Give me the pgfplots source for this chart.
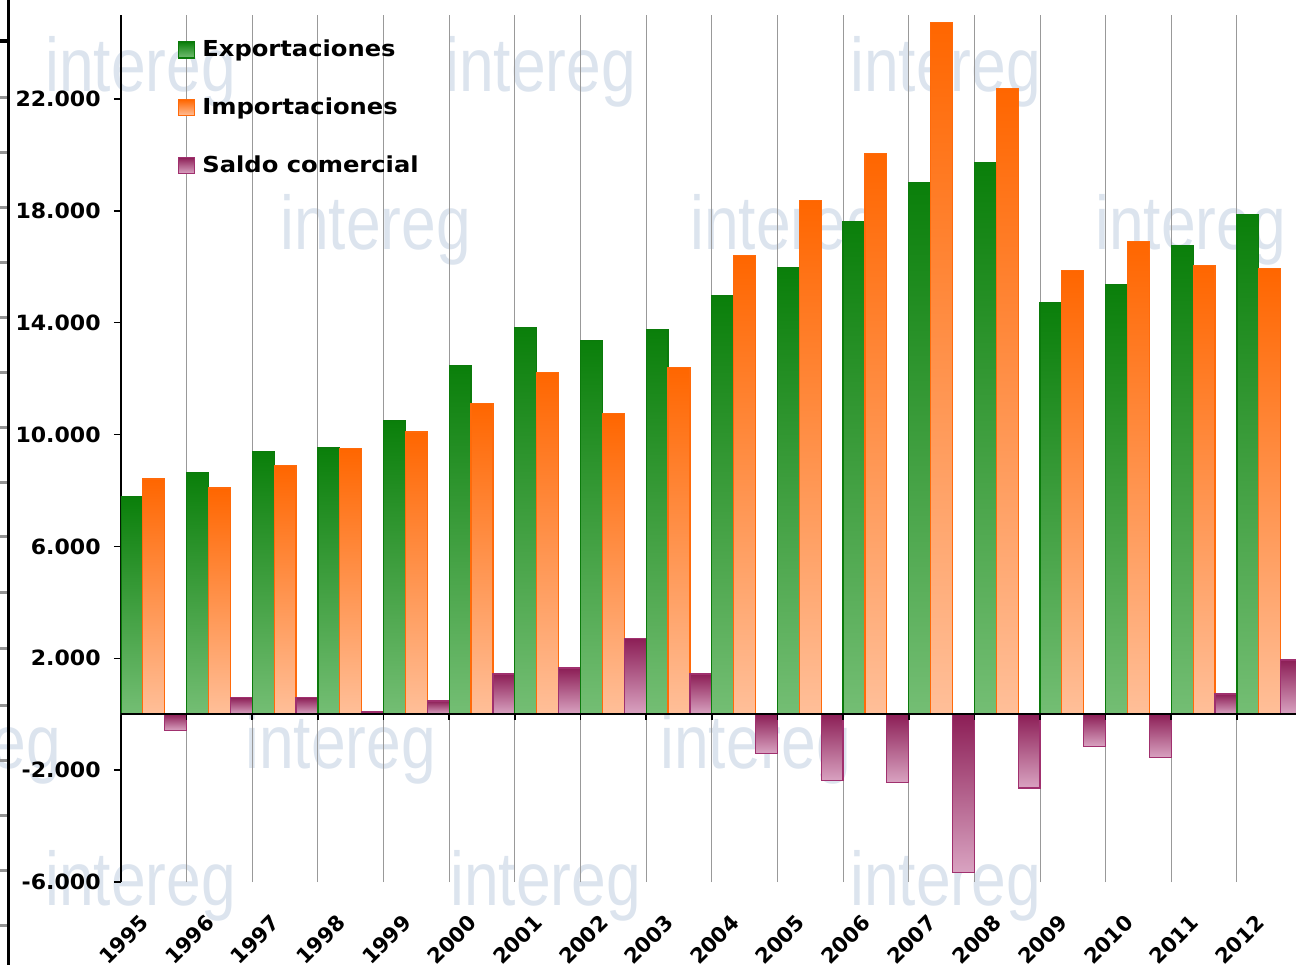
\documentclass[border=0pt]{standalone}
\usepackage{fontspec}
\setmainfont{DejaVu Sans}
\newfontfamily\lblfont[FakeStretch=1.05]{DejaVu Sans}
\newfontfamily\legfont[FakeStretch=1.1]{DejaVu Sans}
\newfontfamily\wmfont[FakeStretch=0.82]{Liberation Sans}
\usepackage{pgfplots}
\usepackage{pgfplotstable}
\pgfplotsset{compat=1.18}
\definecolor{gtop}{HTML}{0A7F0A}
\definecolor{gbot}{HTML}{74BE74}
\definecolor{gedge}{HTML}{0B7A0B}
\definecolor{otop}{HTML}{FF6600}
\definecolor{obot}{HTML}{FFBF99}
\definecolor{oedge}{HTML}{FF6A0A}
\definecolor{stop}{HTML}{8C1E56}
\definecolor{sbot}{HTML}{D9A3C1}
\definecolor{sedge}{HTML}{A0306E}
\definecolor{wm}{HTML}{DCE4EE}
\tikzset{
  expstyle/.style={draw=gedge, line width=0.6pt, top color=gtop, bottom color=gbot},
  impstyle/.style={draw=oedge, line width=0.6pt, top color=otop, bottom color=obot},
  salstyle/.style={draw=sedge, line width=0.6pt, top color=stop, bottom color=sbot},
}

\pgfplotstableread{
idx exp imp sal
0 7770 8410 -580
1 8630 8090 600
2 9380 8880 600
3 9520 9500 80
4 10490 10090 470
5 12480 11120 1440
6 13820 12210 1650
7 13370 10740 2720
8 13750 12400 1440
9 14950 16390 -1400
10 15960 18380 -2380
11 17610 20040 -2440
12 19020 24740 -5650
13 19720 22360 -2640
14 14720 15870 -1150
15 15360 16900 -1560
16 16770 16050 720
17 17860 15930 1940
}\datatable

\begin{document}
\begin{tikzpicture}
\path[use as bounding box] (-60.5pt,-41.5pt) rectangle (587.5pt,441pt);
% pale watermark in the background
\begin{scope}[every node/.style={anchor=base west, text=wm, inner sep=0pt, font=\wmfont\fontsize{38}{40}\selectfont}]
\node at (-38pt,395pt) {intereg};
\node at (162pt,395pt) {intereg};
\node at (364.5pt,395pt) {intereg};
\node at (79.5pt,316pt) {intereg};
\node at (284.5pt,316pt) {intereg};
\node at (487pt,316pt) {intereg};
\node at (-125.5pt,57pt) {intereg};
\node at (62pt,57pt) {intereg};
\node at (269.5pt,57pt) {intereg};
\node at (-38pt,-11.5pt) {intereg};
\node at (164.5pt,-11.5pt) {intereg};
\node at (364.5pt,-11.5pt) {intereg};
\end{scope}
% frame remnants at the left edge
\fill[black] (-57pt,-41.5pt) rectangle (-55.5pt,441pt);
\fill[black] (-60.5pt,419.4pt) rectangle (-57pt,421.6pt);
\foreach \yy in {392,364.5,337,309.5,282,254.5,227,199.5,172.5,145,117,88.5,61,33.5,6,-21.5}
  \fill[gray!85] (-60.5pt,\yy pt-0.75pt) rectangle (-57pt,\yy pt+0.75pt);
\begin{axis}[
  at={(0,0)}, anchor=south west,
  scale only axis, width=587.5pt, height=433.5pt,
  xmin=-0.5, xmax=17.4, ymin=-6000, ymax=25000,
  enlargelimits=false,
  ybar=0pt, bar width=10.94pt,
  axis x line*=bottom, axis y line*=left,
  x axis line style={draw=none},
  y axis line style={black, line width=0.75pt},
  xtick={0,...,17},
  xticklabels={1995,1996,1997,1998,1999,2000,2001,2002,2003,2004,2005,2006,2007,2008,2009,2010,2011,2012},
  xtick style={draw=none},
  minor xtick={0.5,1.5,...,16.5},
  xminorgrids=true,
  minor x grid style={gray!80, line width=0.5pt},
  minor tick length=0pt,
  ytick={-6000,-2000,2000,6000,10000,14000,18000,22000},
  yticklabels={-6.000,-2.000,2.000,6.000,10.000,14.000,18.000,22.000},
  ytick style={black, line width=0.75pt},
  major tick length=3.5pt,
  tick align=outside,
  yticklabel style={font=\lblfont\bfseries\fontsize{10.5}{12.6}\selectfont, inner sep=0pt, xshift=-6.5pt},
  xticklabel style={xshift=-7.5pt, yshift=-12pt, rotate=45, anchor=north east, inner sep=0pt, font=\bfseries\fontsize{10.5}{12.6}\selectfont},
  legend style={at={(axis description cs:0.048,0.975)}, anchor=north west, draw=none, fill=none,
    font=\legfont\bfseries\fontsize{11}{13}\selectfont, row sep=16pt, column sep=2.2pt, inner sep=0pt,
    nodes={inner sep=1.5pt, anchor=west}},
  legend cell align=left,
  legend image code/.code={\draw[#1, line width=0.6pt] (0pt,-4pt) rectangle (8pt,4pt);},
]
\addlegendimage{expstyle}
\addlegendentry{Exportaciones}
\addlegendimage{impstyle}
\addlegendentry{Importaciones}
\addlegendimage{salstyle}
\addlegendentry{Saldo comercial}
\pgfplotsinvokeforeach{0,...,17}{
  \addplot[expstyle, bar shift=-10.94pt, forget plot, x filter/.expression={abs(x-#1)<0.1 ? x : nan}] table[x=idx, y=exp] {\datatable};
  \addplot[impstyle, bar shift=0pt, forget plot, x filter/.expression={abs(x-#1)<0.1 ? x : nan}] table[x=idx, y=imp] {\datatable};
  \addplot[salstyle, bar shift=10.94pt, forget plot, x filter/.expression={abs(x-#1)<0.1 ? x : nan}] table[x=idx, y=sal] {\datatable};
}
\draw[black, line width=0.8pt] (axis cs:-0.5,0) -- (axis cs:17.4,0);
\pgfplotsinvokeforeach{0.5,1.5,...,16.5}{
  \draw[black, line width=0.8pt] (axis cs:#1,0) -- ++(0pt,-3pt);
}
\end{axis}
\end{tikzpicture}
\end{document}
